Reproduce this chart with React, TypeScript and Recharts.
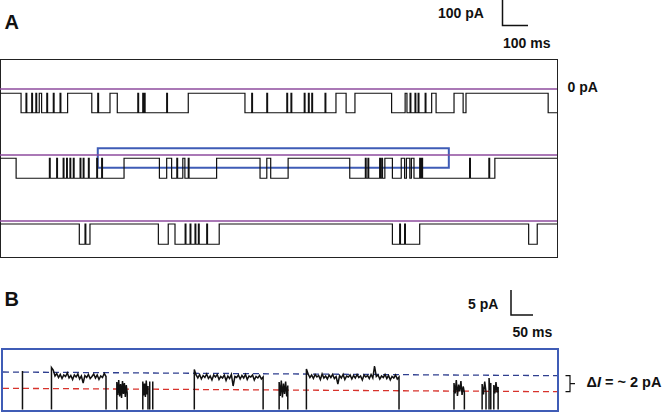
import { LineChart, Line, XAxis, YAxis, ReferenceLine, ReferenceArea } from "recharts";

// Panel A: time in ms, current in pA
const END_A = 2142;
const rowLevels = [
  { closed: -17, open: -95 },
  { closed: -13, open: -93 },
  { closed: -12, open: -93 },
];

// times (ms) where the channel switches level, starting closed at t = 0
const trace1Toggles = [81, 151, 160, 260, 353, 423, 451, 724, 942, 1292, 1331, 1365, 1506, 1558, 1565, 1660, 1677, 1746, 1781, 1792, 2108];
const trace1Spikes = [100, 122, 138, 180, 205, 231, 376, 530, 549, 555, 641, 968, 1026, 1103, 1119, 1170, 1186, 1199, 1250, 1577, 1596, 1608, 1635];

const trace2Toggles = [62, 477, 613, 641, 660, 703, 711, 833, 1000, 1026, 1041, 1108, 1345, 1480, 1509, 1543, 1556, 1563, 1576, 1582, 1592, 1903];
const trace2Spikes = [190, 218, 243, 256, 269, 282, 308, 320, 340, 372, 391, 680, 724, 1405, 1415, 1460, 1468, 1614, 1618, 1622, 1806, 1880];

const trace3Toggles = [305, 346, 609, 647, 673, 843, 1509, 1614, 2033, 2066];
const trace3Spikes = [327, 712, 731, 750, 763, 795, 1537, 1556];

// zoomed region shown in panel B
const zoomBox = { x1: 376, x2: 1726, y1: -51, y2: 27 };

// Panel B: time in ms, current in pA (0 = upper dashed level)
const END_B = 1280;
const blueLevel = [0, -0.74];
const redLevel = [-3.26, -3.94];
const bBursts = [
  { from: 45, to: 45, values: [0.2] },
  { from: 112, to: 238, values: [0.9, 0.4, -0.8, -0.3, -1.1, -0.5, -1.3, -0.6, -0.9, -0.2, -1.2, -0.7, -1.5, -0.6, -1.0, -0.4, -1.4, -0.8, -2.2, -0.7, -1.1, -0.5, -1.3, -0.9, -0.4, -1.2, -0.6, -1.5, -0.8, -1.1, -0.3, -0.9] },
  { from: 263, to: 287, values: [-2.0, -4.6, -1.6, -4.9, -2.4, -5.2, -1.8, -4.4, -2.2, -5.0, -2.6, -4.2] },
  { from: 323, to: 335, values: [-1.9, -4.7, -2.3, -5.0, -1.7, -4.5, -2.8] },
  { from: 339, to: 339, values: [-1.9] },
  { from: 346, to: 346, values: [-1.9] },
  { from: 442, to: 601, values: [0.5, -0.6, -1.2, -0.5, -1.4, -0.7, -1.1, -0.4, -1.3, -0.8, -1.6, -0.6, -1.0, -0.5, -1.5, -0.9, -1.2, -0.6, -1.7, -0.8, -1.3, -0.5, -2.8, -0.9, -1.1, -0.6, -1.4, -0.7, -1.2, -0.5, -1.5, -0.8, -1.0, -0.6, -1.6, -0.9, -1.2, -0.7, -1.4, -1.0] },
  { from: 638, to: 658, values: [-2.0, -4.8, -1.7, -5.1, -2.3, -4.4, -1.9, -4.9, -2.7] },
  { from: 701, to: 915, values: [0.6, -0.4, -1.1, -0.6, -1.3, -0.5, -1.0, -0.7, -1.5, -0.4, -1.2, -0.8, -1.4, -0.6, -1.1, -0.5, -1.3, -0.9, -2.4, -0.7, -1.2, -0.5, -1.5, -0.8, -1.0, -0.6, -1.4, -0.7, -1.2, -0.5, -1.1, -0.8, -1.6, -0.6, -1.0, -0.7, -1.3, -0.5, -1.2, 1.2, -0.9, -0.6, -1.4, -0.8, -1.1, -0.5, -1.3, -0.7, -1.6, -0.9, -1.2, -0.6, -1.4, -1.0] },
  { from: 1042, to: 1066, values: [-2.2, -4.3, -1.6, -4.8, -2.5, -3.9, -1.8, -4.6, -2.9, -4.1] },
  { from: 1107, to: 1116, values: [-2.4, -4.5, -1.9, -4.0] },
  { from: 1123, to: 1127, values: [-1.2, -3.6, -2.2] },
  { from: 1134, to: 1144, values: [-2.6, -4.3, -2.0, -4.1, -3.0] },
];
const B_CLOSED = -7.5;

const TRACE = "#111";
const PURPLE = "#8e4b9e";
const BLUE_BOX = "#3f5cb6";
const DASH_BLUE = "#2f3f8f";
const DASH_RED = "#d7332c";
const FONT = "'Liberation Sans', Arial, sans-serif";

function buildTrace(toggles: number[], spikes: number[], closed: number, open: number) {
  const events = [
    ...toggles.map((t) => ({ t, spike: false })),
    ...spikes.map((t) => ({ t, spike: true })),
  ].sort((a, b) => a.t - b.t);
  const pts = [{ t: 0, v: closed }];
  let state = closed;
  for (const e of events) {
    if (e.spike) {
      pts.push({ t: e.t, v: closed });
      pts.push({ t: e.t + 3, v: state });
    } else {
      state = state === closed ? open : closed;
      pts.push({ t: e.t, v: state });
    }
  }
  pts.push({ t: END_A, v: state });
  return pts;
}

function buildBursts() {
  const pts: any[] = [{ t: 0, blue: blueLevel[0], red: redLevel[0] }];
  for (const b of bBursts) {
    const n = b.values.length;
    pts.push({ t: b.from, v: B_CLOSED });
    b.values.forEach((val, i) => {
      pts.push({ t: n === 1 ? b.from : b.from + ((b.to - b.from) * i) / (n - 1), v: val });
    });
    pts.push({ t: b.to, v: B_CLOSED });
    pts.push({ t: b.to + 0.5, v: null });
  }
  pts.push({ t: END_B, blue: blueLevel[1], red: redLevel[1] });
  return pts;
}

const rows = [
  buildTrace(trace1Toggles, trace1Spikes, rowLevels[0].closed, rowLevels[0].open),
  buildTrace(trace2Toggles, trace2Spikes, rowLevels[1].closed, rowLevels[1].open),
  buildTrace(trace3Toggles, trace3Spikes, rowLevels[2].closed, rowLevels[2].open),
];
const rowTops = [59, 125, 191];
const dataB = buildBursts();

const label = { fontFamily: FONT, fontWeight: 700, fontSize: 14, fill: "#111" };

export default function App() {
  return (
    <div style={{ position: "absolute", left: 0, top: 0, width: 664, height: 413, background: "#fff", overflow: "hidden" }}>
      <div style={{ position: "absolute", left: 0, top: 59, width: 558, height: 199, border: "1px solid #222", boxSizing: "border-box" }} />
      {rows.map((data, i) => (
        <div key={i} style={{ position: "absolute", left: 0, top: rowTops[i] }}>
          <LineChart width={557} height={66} data={data} margin={{ top: 0, right: 0, bottom: 0, left: 0 }}>
            <XAxis type="number" dataKey="t" domain={[0, END_A]} hide />
            <YAxis type="number" domain={[-144, 120]} hide allowDataOverflow />
            <ReferenceLine y={0} stroke={PURPLE} strokeWidth={1.5} />
            <Line type="stepAfter" dataKey="v" stroke={TRACE} strokeWidth={1.2} dot={false} isAnimationActive={false} />
            {i === 1 && (
              <ReferenceArea
                x1={zoomBox.x1}
                x2={zoomBox.x2}
                y1={zoomBox.y1}
                y2={zoomBox.y2}
                fill="none"
                fillOpacity={0}
                stroke={BLUE_BOX}
                strokeWidth={2}
                ifOverflow="visible"
              />
            )}
          </LineChart>
        </div>
      ))}

      <div style={{ position: "absolute", left: 1, top: 348, width: 558, height: 64, border: `2px solid ${BLUE_BOX}`, boxSizing: "border-box" }} />
      <div style={{ position: "absolute", left: 3, top: 352 }}>
        <LineChart width={554} height={60} data={dataB} margin={{ top: 0, right: 0, bottom: 0, left: 0 }}>
          <XAxis type="number" dataKey="t" domain={[0, END_B]} hide />
          <YAxis type="number" domain={[-8, 4]} hide allowDataOverflow />
          <Line type="linear" dataKey="blue" stroke={DASH_BLUE} strokeWidth={1.3} strokeDasharray="6 4" dot={false} connectNulls isAnimationActive={false} />
          <Line type="linear" dataKey="red" stroke={DASH_RED} strokeWidth={1.3} strokeDasharray="6 4" dot={false} connectNulls isAnimationActive={false} />
          <Line type="linear" dataKey="v" stroke={TRACE} strokeWidth={1.5} dot={false} connectNulls={false} isAnimationActive={false} />
        </LineChart>
      </div>

      <svg width={664} height={413} style={{ position: "absolute", left: 0, top: 0, pointerEvents: "none" }}>
        <text x={4.5} y={22} dominantBaseline="central" style={{ ...label, fontSize: 20 }}>A</text>
        <text x={438} y={12.5} dominantBaseline="central" style={label}>100 pA</text>
        <polyline points="502.5,0 502.5,25.5 528,25.5" fill="none" stroke="#111" strokeWidth={1.5} />
        <text x={503} y={42.5} dominantBaseline="central" style={label}>100 ms</text>
        <text x={567.5} y={87} dominantBaseline="central" style={label}>0 pA</text>

        <text x={4.5} y={299} dominantBaseline="central" style={{ ...label, fontSize: 20 }}>B</text>
        <text x={468} y={303.5} dominantBaseline="central" style={label}>5 pA</text>
        <polyline points="511,290 511,315 533,315" fill="none" stroke="#111" strokeWidth={1.5} />
        <text x={512.5} y={332} dominantBaseline="central" style={label}>50 ms</text>
        <path d="M565.5 375.7 H570 V391.7 H565.5 M570 383.7 H575" fill="none" stroke="#111" strokeWidth={1.2} />
        <text x={586.5} y={382} dominantBaseline="central" style={{ ...label, fontSize: 14.5 }}>
          Δ<tspan fontStyle="italic">I</tspan> = ~ 2 pA
        </text>
      </svg>
    </div>
  );
}
